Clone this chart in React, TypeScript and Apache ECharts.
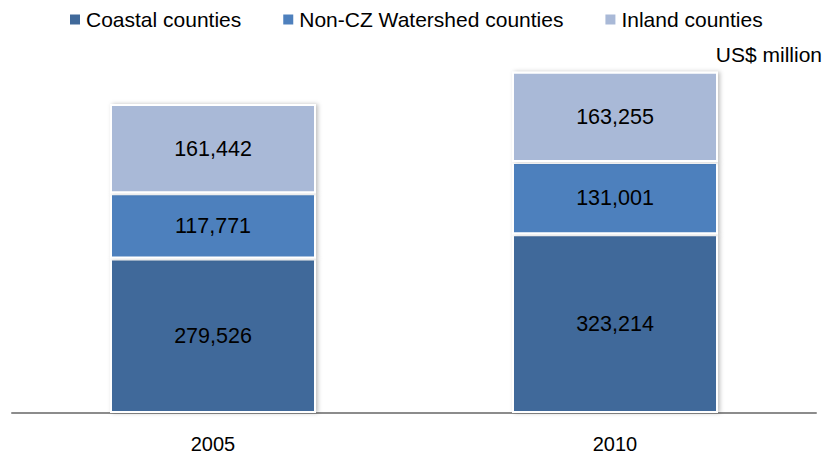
import React, { useEffect, useRef } from "react";
import * as echarts from "echarts";

const categories = ["2005", "2010"];
const coastal = [279526, 323214];
const nonCZ = [117771, 131001];
const inland = [161442, 163255];
const seriesNames = ["Coastal counties", "Non-CZ Watershed counties", "Inland counties"];
const unitLabel = "US$ million";

const FONT = "'Liberation Sans', Arial, sans-serif";

export default function App() {
  const ref = useRef<HTMLDivElement>(null);
  useEffect(() => {
    if (!ref.current) return;
    const chart = echarts.init(ref.current, null, { renderer: "svg" });
    const fmt = (p: any) => Number(p.value).toLocaleString("en-US");
    const mk = (name: string, data: number[], color: string) => ({
      name,
      type: "bar",
      stack: "total",
      data,
      barWidth: 206,
      itemStyle: {
        color,
        borderColor: "#ffffff",
        borderWidth: 2,
        shadowColor: "rgba(0,0,0,0.25)",
        shadowBlur: 4,
        shadowOffsetX: 2,
      },
      label: {
        show: true,
        position: "inside",
        formatter: fmt,
        color: "#000",
        fontSize: 21.5,
        fontFamily: FONT,
      },
    });
    chart.setOption({
      animation: false,
      backgroundColor: "#ffffff",
      textStyle: { fontFamily: FONT },
      legend: {
        left: 63,
        top: 4,
        icon: "rect",
        itemWidth: 12,
        itemHeight: 12,
        itemGap: 40,
        textStyle: { fontSize: 21, color: "#000", fontFamily: FONT },
        data: seriesNames,
      },
      graphic: [
        {
          type: "text",
          right: 4,
          top: 44,
          style: { text: unitLabel, fontSize: 21, fill: "#000", fontFamily: FONT },
        },
      ],
      grid: { left: 12, right: 10, top: 26, bottom: 42 },
      xAxis: {
        type: "category",
        data: categories,
        axisTick: { show: false },
        axisLine: { lineStyle: { color: "#8c8c8c", width: 2 } },
        axisLabel: { fontSize: 20, color: "#000", margin: 21, fontFamily: FONT },
      },
      yAxis: { type: "value", min: 0, max: 700000, show: false, splitLine: { show: false } },
      series: [
        mk(seriesNames[0], coastal, "#40699a"),
        mk(seriesNames[1], nonCZ, "#4e80bd"),
        mk(seriesNames[2], inland, "#a9b9d7"),
      ],
    });
    return () => chart.dispose();
  }, []);
  return (
    <div
      ref={ref}
      style={{ position: "fixed", left: 0, top: 0, width: 826, height: 455 }}
    />
  );
}
